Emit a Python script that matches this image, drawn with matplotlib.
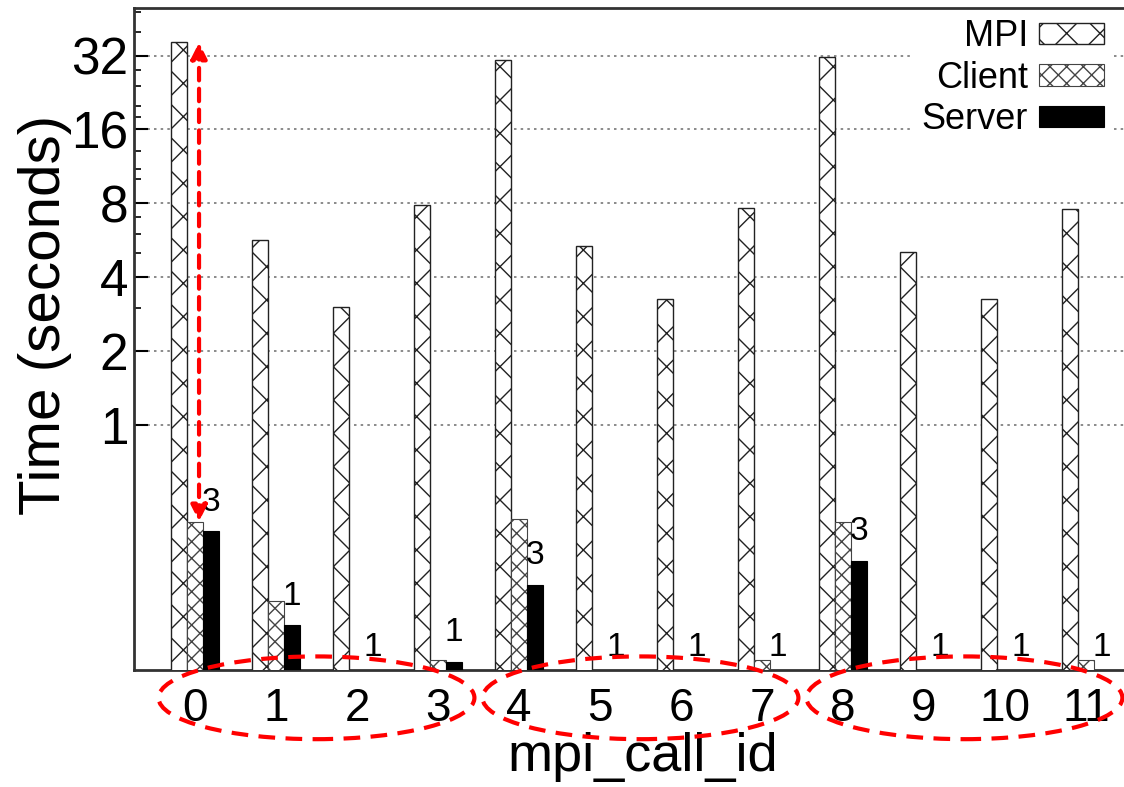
import numpy as np
import matplotlib
matplotlib.use("Agg")
import matplotlib.pyplot as plt
from matplotlib.patches import Ellipse
from matplotlib.ticker import FixedLocator, NullFormatter
import matplotlib.transforms as mtransforms

plt.rcParams['font.family'] = ['Liberation Sans', 'DejaVu Sans']
plt.rcParams['hatch.linewidth'] = 1.0

call_ids = list(range(12))
tick_labels = [str(i) for i in call_ids]
mpi = [36.2, 5.68, 3.02, 7.88, 30.8, 5.36, 3.26, 7.66, 31.6, 5.07, 3.26, 7.6]
client = [0.403, 0.192, 0, 0.11, 0.413, 0, 0, 0.11, 0.403, 0, 0, 0.11]
server = [0.367, 0.152, 0, 0.108, 0.222, 0, 0, 0, 0.279, 0, 0, 0]
counts = [3, 1, 1, 1, 3, 1, 1, 1, 3, 1, 1, 1]
y_ticks = [1, 2, 4, 8, 16, 32]
y_minor = [3, 5, 6, 7, 10, 11, 13, 18, 20, 24, 28, 40, 48]

W, H = 1124, 787
fig = plt.figure(figsize=(W / 100, H / 100), dpi=100)
ax = fig.add_axes([134 / W, (H - 670) / H, 1 - 134 / W, (670 - 8) / H])

x = np.arange(len(call_ids))
bw = 0.2
ax.bar(x - bw, mpi, bw, color='white', edgecolor='#222222', hatch='x', lw=1.0,
       label='MPI', zorder=3)
ax.bar(x, client, bw, color='white', edgecolor='#444444', hatch='xx', lw=0.8,
       label='Client', zorder=3)
ax.bar(x + bw, server, bw, color='black', edgecolor='black', lw=0.8,
       label='Server', zorder=3)

ax.set_yscale('log')
ax.set_ylim(0.1, 50)
ax.set_xlim(-0.753, 11.47)

ax.yaxis.set_major_locator(FixedLocator(y_ticks))
ax.set_yticklabels([str(v) for v in y_ticks])
ax.yaxis.set_minor_locator(FixedLocator(y_minor))
ax.yaxis.set_minor_formatter(NullFormatter())
ax.tick_params(axis='y', which='major', direction='in', length=10, width=1.5,
               labelsize=37, pad=4)
ax.tick_params(axis='y', which='minor', direction='in', length=5, width=1.2)
ax.set_xticks(x)
ax.set_xticklabels(tick_labels)
ax.tick_params(axis='x', length=0, labelsize=33, pad=12)

ax.grid(axis='y', which='major', linestyle=(0, (1.5, 2.5)), color='#777777', lw=1.2, zorder=0)

for s in ['left', 'bottom', 'top']:
    ax.spines[s].set_color('#333333')
    ax.spines[s].set_linewidth(2)
ax.spines['right'].set_visible(False)

ax.set_ylabel('Time (seconds)', fontsize=42)
ax.yaxis.set_label_coords(-0.063, 0.536)
ax.set_xlabel('mpi_call_id', fontsize=39)
ax.xaxis.set_label_coords(0.514, -0.093)

# count labels above server bars
for xi, sv, c in zip(x, server, counts):
    base = sv if sv > 0 else 0.1
    off = 10 if sv > 0 else 5
    ax.annotate(str(c), (xi + bw, base), xytext=(0, off), textcoords='offset points',
                ha='center', va='bottom', fontsize=24, zorder=5)

leg = ax.legend(loc='upper right', bbox_to_anchor=(1111 / W, (H - 12) / H),
                bbox_transform=fig.transFigure, markerfirst=False, fontsize=26,
                handlelength=1.8, handleheight=0.55, handletextpad=0.3,
                labelspacing=0.18, borderpad=0.2, borderaxespad=0, frameon=True,
                fancybox=False)
leg.get_frame().set_edgecolor('none')
leg.get_frame().set_facecolor('white')
leg.get_frame().set_alpha(1)
leg.set_zorder(4)

# red dashed ellipses around groups of x tick labels
trans = mtransforms.blended_transform_factory(ax.transData, ax.transAxes)
for cx in (1.5, 5.5, 9.5):
    e = Ellipse((cx, -0.042), 3.9, 0.125, transform=trans, fill=False,
                edgecolor='red', lw=3, linestyle=(0, (4, 2.5)), clip_on=False, zorder=6)
    ax.add_patch(e)

# red dashed double arrow between MPI and client of call 0
ax.annotate('', xy=(0.05, client[0]), xytext=(0.05, mpi[0]),
            arrowprops=dict(arrowstyle='<|-|>', color='red', lw=3, linestyle=(0, (3, 2)),
                            mutation_scale=24, shrinkA=0, shrinkB=0), zorder=6)

fig.savefig('out.png', dpi=100)
